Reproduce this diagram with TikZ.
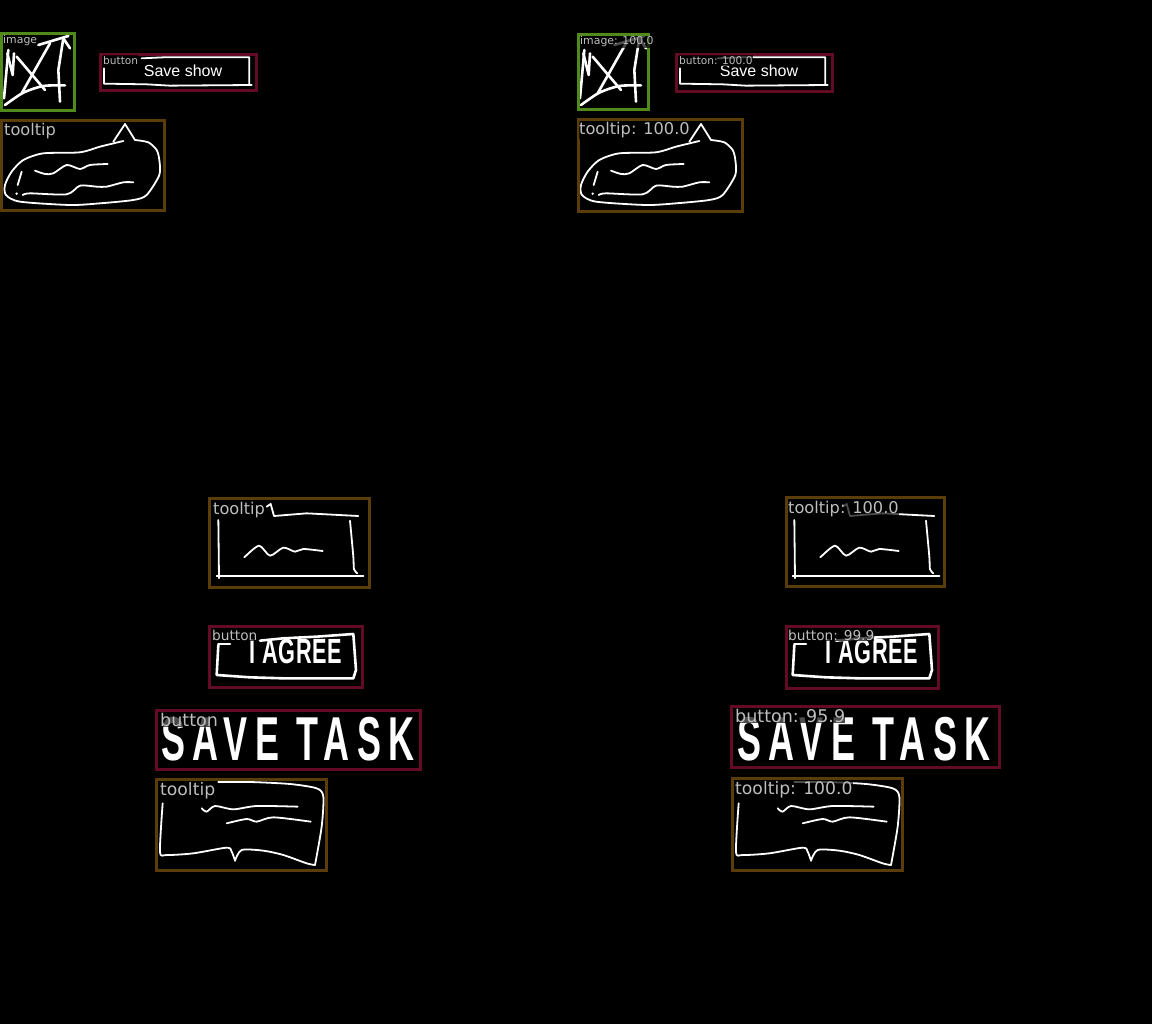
\documentclass[tikz,border=0pt]{standalone}
\usepackage{fontspec}
\setmainfont{DejaVu Sans}
\newfontfamily\handfont{Liberation Sans}
\definecolor{boxgreen}{HTML}{4F8A1B}
\definecolor{boxred}{HTML}{630A24}
\definecolor{boxbrown}{HTML}{5A3D0A}
\definecolor{labgray}{HTML}{BEBEBE}
\tikzset{
  greenbox/.style={draw=boxgreen,line width=3pt},
  redbox/.style={draw=boxred,line width=3pt},
  brownbox/.style={draw=boxbrown,line width=3pt},
  pen/.style={draw=white,line width=1.8pt,line join=round,line cap=round},
  thickpen/.style={draw=white,line width=2.6pt,line join=round,line cap=round},
  lab/.style={anchor=base west,inner xsep=0pt,inner ysep=1pt,fill=black,fill opacity=.7,text opacity=1,text=labgray},
  hand/.style={anchor=base,inner sep=0pt,text=white},
}
\newcommand{\lab}[5]{\node[lab] (#1) at (#2,#3) {\fontsize{#4}{#4}\selectfont #5};}
\newcommand{\sk}[1]{plot[smooth,tension=.45] coordinates {#1}}
\newcommand{\sketches}[1]{%
  % top group
  \begin{scope}[shift={(0,25)},x=.33333pt,y=-.33333pt]
    \draw[thickpen] (25,75) -- (12,220);
    \draw[thickpen] (22,85) -- (38,150) -- (42,85);
    \draw[thickpen] (50,95) -- (135,195);
    \draw[thickpen] (150,55) -- (65,205);
    \draw[thickpen] (115,60) -- (205,33);
    \draw[thickpen] (190,40) -- (175,135) -- (180,230);
    \draw[thickpen] (190,40) -- (210,70);
    \draw[thickpen] \sk{(15,240) (70,203) (130,183) (195,181)};
    \draw[pen] (312,130) -- (312,176) -- (440,178) -- (510,182) -- (755,180);
    \draw[pen] (748,180) -- (748,97) -- (560,97) -- (490,97) -- (425,100);
    \draw[pen] (340,350) -- (375,297) -- (405,345);
    \draw[pen] \sk{(405,345) (445,352) (470,375) (478,405) (478,450) (440,510) (400,525) (300,535) (210,540) (60,530) (18,510) (15,480) (35,440) (70,405) (130,385) (240,382) (300,365) (370,348)};
    \draw[pen] \sk{(105,437) (135,447) (160,445) (200,420) (240,432) (270,420) (323,417)};
    \draw[pen] \sk{(68,510) (90,505) (200,508) (240,482) (290,485) (320,485) (370,472) (400,472)};
    \draw[pen] (65,440) -- (53,480);
    \fill[white] (50,506) circle (4);
  \end{scope}
  \node[hand] (#1save) at (183,77) {\handfont\fontsize{16}{16}\selectfont Save show};
  % middle group
  \begin{scope}[shift={(150,490)},x=.33333pt,y=-.33333pt]
    \draw[pen] (205,90) -- (207,265);
    \draw[pen] (200,257) -- (640,257);
    \draw[pen] \sk{(600,92) (610,200) (612,238) (622,250)};
    \draw[pen] (350,50) -- (362,42) -- (372,78) -- (470,70) -- (625,78);
    \draw[pen] \sk{(283,202) (327,167) (360,197) (400,173) (435,185) (460,177) (518,183)};
    \draw[thickpen] (205,465) -- (200,555) -- (300,562) -- (400,565) -- (610,565) -- (618,540) -- (610,432) -- (500,440) -- (400,445) -- (330,452);
    \draw[thickpen] (205,462) -- (240,462);
  \end{scope}
  \node[hand] (#1agree) at (296,663) {\handfont\fontsize{35}{35}\selectfont\scalebox{.62}[1]{\bfseries\addfontfeature{LetterSpace=3}I AGREE}};
  % bottom group
  \node[hand] (#1task) at (288,760) {\handfont\bfseries\fontsize{62}{62}\selectfont\scalebox{.58}[1]{\addfontfeature{LetterSpace=21}SAVE TASK}};
  \begin{scope}[shift={(150,700)},x=.33333pt,y=-.33333pt]
    \draw[pen] \sk{(205,246) (300,246) (420,252) (500,265) (520,290) (515,380) (495,495)};
    \draw[pen] \sk{(495,495) (470,490) (400,465) (340,452) (275,450) (255,482)};
    \draw[pen] \sk{(255,482) (245,455) (230,443) (130,460) (50,465) (30,455) (38,310)};
    \draw[pen] \sk{(155,325) (170,335) (195,318) (250,328) (320,318) (443,320)};
    \draw[pen] \sk{(230,370) (290,357) (320,365) (370,352) (482,365)};
  \end{scope}
}
\begin{document}
\begin{tikzpicture}[x=1pt,y=-1pt]
  \useasboundingbox (0,0) rectangle (1152,1024);
  \fill[black] (0,0) rectangle (1152,1024);
  \sketches{l}
  \begin{scope}[xshift=576pt]
    \sketches{r}
  \end{scope}
  % left boxes
  \draw[greenbox] (1.5,33.5) rectangle (74,110.5);
  \draw[redbox] (100.5,54.5) rectangle (256,91);
  \draw[brownbox] (1,120.5) rectangle (164,210.5);
  \draw[brownbox] (209.5,498.5) rectangle (369,587);
  \draw[redbox] (209.5,626.5) rectangle (362.5,687.5);
  \draw[redbox] (156,710.5) rectangle (420.5,769.5);
  \draw[brownbox] (156.5,779.5) rectangle (326,870);
  % right boxes
  \draw[greenbox] (578,34.5) rectangle (648,109.5);
  \draw[redbox] (676.5,54.5) rectangle (832.5,91.5);
  \draw[brownbox] (578,119.5) rectangle (742.5,212);
  \draw[brownbox] (786,497.5) rectangle (944,586);
  \draw[redbox] (786,626.5) rectangle (938.5,688);
  \draw[redbox] (731.5,706.5) rectangle (999.5,767.5);
  \draw[brownbox] (732.5,778.5) rectangle (902.5,870.5);
  % labels
  \lab{a1}{3}{44}{10.9}{image}
  \lab{a2}{103}{64.5}{10.6}{button}
  \lab{a3}{4}{136}{16.2}{tooltip}
  \lab{a4}{213}{514}{16.2}{tooltip}
  \lab{a5}{212}{640}{13.7}{button}
  \lab{a6}{160}{726}{17.5}{button}
  \lab{a7}{160}{795}{17.2}{tooltip}
  \lab{b1}{580}{45}{10.9}{image: 100.0}
  \lab{b2}{679}{64.5}{10.6}{button: 100.0}
  \lab{b3}{579}{135}{16.2}{tooltip: 100.0}
  \lab{b4}{788}{513}{16.2}{tooltip: 100.0}
  \lab{b5}{788}{640}{13.7}{button: 99.9}
  \lab{b6}{735}{722}{17.5}{button: 95.9}
  \lab{b7}{735}{794}{17.2}{tooltip: 100.0}
\end{tikzpicture}
\end{document}
